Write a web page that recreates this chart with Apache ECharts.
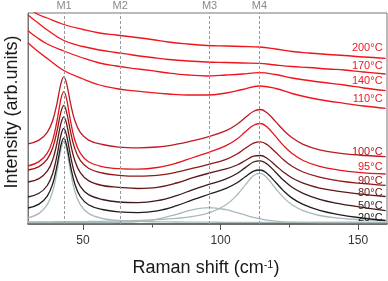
<!DOCTYPE html>
<html>
<head>
<meta charset="utf-8">
<script src="https://cdn.jsdelivr.net/npm/echarts@6/dist/echarts.min.js"></script>
<style>html,body{margin:0;padding:0;background:#fff}#c{width:388px;height:281px}</style>
</head>
<body>
<div id="c"></div>
<script>
// Raman shift sample positions (cm-1)
const X_LOW = [30, 34, 37, 39, 40.5, 42, 43, 44, 45.5, 47, 49, 52, 57, 63, 70, 77, 84, 90, 96, 102, 106, 109, 112, 114.5, 117, 120, 123, 126, 130, 136, 143, 150, 160];
const X_HIGH = [30, 33, 37, 43, 50, 56, 62, 68, 75, 81, 88, 95, 102, 108, 114, 120, 126, 132, 139, 145, 152, 160];

// stacked intensities (arb. units, offset per temperature)
const T20  = [16.0, 19.9, 27.9, 40.5, 57.6, 79.2, 85.8, 79.1, 57.5, 40.2, 27.5, 19.3, 14.5, 12.1, 11.3, 13.1, 18.3, 24.4, 30.0, 35.6, 41.2, 47.3, 52.9, 54.0, 50.3, 41.7, 32.9, 25.9, 19.6, 13.6, 9.4, 6.5, 3.5];
const T50  = [27.0, 30.7, 38.5, 50.8, 67.8, 89.2, 95.7, 89.0, 67.5, 50.3, 37.7, 29.4, 24.5, 22.0, 21.4, 23.3, 28.4, 34.4, 39.8, 45.1, 50.5, 56.4, 62.0, 63.2, 59.8, 51.8, 43.4, 36.8, 30.7, 24.7, 20.4, 17.3, 13.3];
const T80  = [42.0, 45.4, 52.8, 64.4, 80.5, 100.8, 107.0, 100.5, 79.9, 63.5, 51.4, 43.4, 38.5, 36.7, 35.5, 36.6, 41.0, 46.3, 51.0, 55.1, 59.0, 63.5, 67.8, 68.5, 65.5, 58.6, 51.6, 46.0, 40.9, 35.9, 32.6, 30.1, 27.5];
const T90  = [54.0, 57.4, 64.8, 76.4, 92.3, 112.4, 118.5, 112.2, 91.8, 75.5, 63.6, 55.8, 51.0, 48.7, 47.8, 48.6, 51.8, 55.8, 59.8, 64.7, 70.0, 75.7, 80.9, 82.2, 79.2, 71.7, 64.0, 57.8, 52.0, 46.8, 43.2, 40.9, 38.6];
const T95  = [58.0, 62.4, 70.9, 84.2, 102.5, 125.4, 132.4, 125.4, 102.4, 84.2, 70.8, 62.2, 57.4, 55.3, 54.8, 56.5, 61.0, 66.5, 71.9, 78.3, 85.0, 92.2, 98.8, 100.5, 96.7, 87.6, 78.1, 70.5, 63.5, 57.6, 53.9, 51.7, 50.0];
const T100 = [80.1, 83.9, 91.7, 103.7, 120.1, 140.8, 147.1, 140.8, 120.1, 103.7, 91.6, 83.9, 79.5, 76.9, 76.2, 77.0, 79.8, 83.4, 87.6, 93.3, 99.7, 106.4, 112.8, 114.5, 111.0, 102.4, 93.5, 86.3, 79.6, 74.1, 70.9, 69.0, 67.3];
const T110 = [181.3, 174, 165.5, 153.5, 145, 139, 135.5, 133.3, 131.3, 130, 129, 129, 131, 134.5, 138, 135.5, 130.5, 126.5, 123, 120.7, 118, 115.7];
const T140 = [193.3, 187, 180, 173, 166, 161, 158, 155.7, 153.3, 151, 149, 148, 149, 150, 151.3, 149.5, 146, 143.5, 141, 139, 136, 133.3];
const T170 = [209, 202.5, 194, 183.5, 177.5, 174, 171.5, 169, 166.5, 164.5, 163, 162, 161.5, 161, 160.7, 159, 157.5, 156.5, 155, 154, 152, 150];
const T200 = [218, 210.5, 206, 199.5, 194.5, 191, 189, 187, 184.5, 182, 180, 178.5, 178, 177.5, 177, 175, 172.5, 171, 169.5, 168.5, 167, 165.7];

// fitted components of the 20 °C spectrum
const FIT_M1 = [6.1, 10.6, 19.4, 33.0, 51.7, 75.1, 82.3, 75.1, 51.7, 33.0, 19.4, 10.6, 5.5, 3.5, 2.6, 2.2, 2.0, 1.9, 1.8, 1.7, 1.7, 1.7, 1.7, 1.6, 1.6, 1.6, 1.6, 1.6, 1.6, 1.6, 1.6, 1.6, 1.6];
const FIT_M3 = [1.5, 1.5, 1.5, 1.5, 1.5, 1.5, 1.5, 1.5, 1.5, 1.5, 1.5, 1.5, 1.5, 1.7, 2.4, 4.8, 9.7, 14.3, 16.3, 14.3, 11.3, 8.9, 6.6, 5.1, 3.9, 2.9, 2.2, 1.9, 1.6, 1.5, 1.5, 1.5, 1.5];
const FIT_M4 = [2.1, 2.1, 2.2, 2.2, 2.3, 2.3, 2.3, 2.3, 2.3, 2.4, 2.4, 2.5, 2.7, 3.0, 3.5, 4.3, 5.6, 7.6, 11.3, 19.2, 29.0, 39.1, 48.4, 50.6, 45.8, 35.5, 26.1, 19.2, 13.3, 8.5, 5.8, 4.4, 3.3];

// mode positions
const MODES = [{name: 'M1', x: 43.1}, {name: 'M2', x: 63.5}, {name: 'M3', x: 96}, {name: 'M4', x: 114.1}];
const X_TICKS = [50, 100, 150];
const X_MINOR = [75, 125];

const FONT = 'Liberation Sans, Arial, sans-serif';
const pairs = (xs, ys) => xs.map((x, i) => [x, ys[i]]);

function curve(name, xs, ys, color, labelColor, dy) {
  const s = {
    name, type: 'line', data: pairs(xs, ys), smooth: 0.4, showSymbol: false, symbol: 'none',
    lineStyle: {color, width: 1.3}, silent: true, z: 3
  };
  if (labelColor) {
    s.markPoint = {
      symbol: 'circle', symbolSize: 0.1, silent: true, animation: false,
      itemStyle: {color: 'rgba(0,0,0,0)'},
      data: [{coord: [xs[xs.length - 1], ys[ys.length - 1]]}],
      label: {show: true, formatter: name, position: 'left', distance: 3, offset: [0, dy],
              color: labelColor, fontSize: 11, fontFamily: FONT}
    };
  }
  return s;
}

const GRAY = '#a9b9b9';
const series = [
  curve('fitM1', X_LOW, FIT_M1, GRAY),
  curve('fitM3', X_LOW, FIT_M3, GRAY),
  curve('fitM4', X_LOW, FIT_M4, GRAY),
  curve('20°C', X_LOW, T20, '#1e1e1e', '#222222', -3),
  curve('50°C', X_LOW, T50, '#3a1c1c', '#3a2020', -4.5),
  curve('80°C', X_LOW, T80, '#651717', '#661818', -3.2),
  curve('90°C', X_LOW, T90, '#941616', '#8e1414', -4.5),
  curve('95°C', X_LOW, T95, '#e5141c', '#e3161e', -7),
  curve('100°C', X_LOW, T100, '#bf1a22', '#b8141c', -4.4),
  curve('110°C', X_HIGH, T110, '#f0141c', '#ec1c24', -9.6),
  curve('140°C', X_HIGH, T140, '#f0141c', '#ec1c24', -9.4),
  curve('170°C', X_HIGH, T170, '#f0141c', '#ec1c24', -8),
  curve('200°C', X_HIGH, T200, '#f0141c', '#ec1c24', -10)
];
series[0].markLine = {
  symbol: 'none', silent: true, animation: false,
  lineStyle: {color: '#999999', type: [3, 2], width: 1},
  label: {show: true, position: 'end', distance: 2, color: '#8a8a8a', fontSize: 11, fontFamily: FONT,
          formatter: p => p.name},
  data: MODES.map(m => ({name: m.name, xAxis: m.x}))
};

const chart = echarts.init(document.getElementById('c'), null, {renderer: 'canvas'});
chart.setOption({
  animation: false,
  backgroundColor: '#ffffff',
  grid: {left: 28, right: 1, top: 13, bottom: 57, show: true, borderColor: '#777777', borderWidth: 1},
  xAxis: [{
    type: 'value', min: 30, max: 160.5, position: 'bottom',
    axisLine: {show: true, onZero: false, lineStyle: {color: '#555555', width: 1.5}},
    axisTick: {show: true, customValues: X_TICKS, length: 6, lineStyle: {color: '#555555'}},
    axisLabel: {show: true, customValues: X_TICKS, margin: 11, color: '#333333', fontSize: 12, fontFamily: FONT},
    splitLine: {show: false}
  }, {
    type: 'value', min: 30, max: 160.5, position: 'bottom', gridIndex: 0,
    axisLine: {show: false},
    axisTick: {show: true, customValues: X_MINOR, length: 3.5, lineStyle: {color: '#555555'}},
    axisLabel: {show: false},
    splitLine: {show: false}
  }],
  yAxis: {
    type: 'value', min: 0, max: 211,
    axisLine: {show: true, lineStyle: {color: '#777777'}},
    axisTick: {show: false}, axisLabel: {show: false}, splitLine: {show: false}
  },
  graphic: [
    {type: 'text', x: 12, y: 112, rotation: Math.PI / 2,
     style: {text: 'Intensity (arb.units)', fill: '#1a1a1a', font: '18px ' + FONT, align: 'center', verticalAlign: 'middle'}},
    {type: 'text', x: 206, y: 268,
     style: {text: '{a|Raman shift (cm}{s|-1}{a|)}', align: 'center', verticalAlign: 'middle',
             rich: {a: {fontSize: 18, fontFamily: FONT, fill: '#1a1a1a', color: '#1a1a1a'},
                    s: {fontSize: 11, fontFamily: FONT, fill: '#1a1a1a', color: '#1a1a1a', verticalAlign: 'top'}}}}
  ],
  series
});
</script>
</body>
</html>
